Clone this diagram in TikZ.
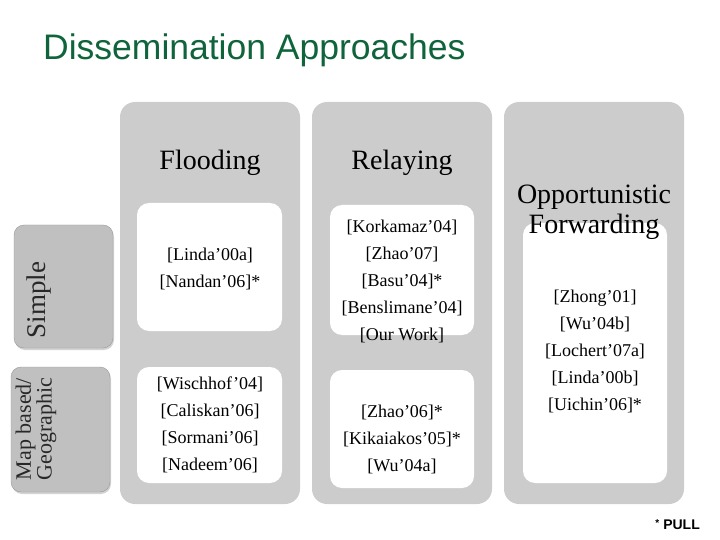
\documentclass[tikz,border=0pt]{standalone}
\usepackage{fontspec}
\setmainfont{Liberation Serif}
\newfontfamily\titlefont{Liberation Sans}
\usetikzlibrary{shadows}
\definecolor{titlegreen}{RGB}{16,100,60}
\definecolor{colgray}{RGB}{204,204,204}
\definecolor{labgray}{RGB}{192,192,192}
\definecolor{labtext}{RGB}{40,40,40}
\tikzset{
  colbox/.style={fill=colgray, rounded corners=15pt, minimum width=180pt, minimum height=402pt, inner sep=0pt},
  whitebox/.style={fill=white, rounded corners=12pt, inner sep=0pt},
  labbox/.style={fill=labgray, draw=gray!80, line width=0.4pt, rounded corners=10pt, inner sep=0pt,
     drop shadow={shadow xshift=1pt, shadow yshift=-2pt, opacity=0.35}},
  head/.style={font=\fontsize{28}{30}\selectfont, align=center, inner sep=0pt},
  refs/.style={font=\fontsize{18}{27}\selectfont, align=center, inner sep=0pt},
}
\begin{document}
\begin{tikzpicture}[x=1pt,y=-1pt]
\useasboundingbox (0,0) rectangle (720,540);
% title
\node[anchor=west, inner sep=0pt, text=titlegreen, font=\titlefont\fontsize{35.5}{40}\selectfont] (title) at (43,50) {Dissemination Approaches};
% columns
\node[colbox] (colF) at (210,303) {};
\node[colbox] (colR) at (402,303) {};
\node[colbox] (colO) at (594,303) {};
% row labels
\node[labbox, minimum width=99pt, minimum height=123pt] (labS) at (63.5,286.5) {};
\node[labbox, minimum width=99pt, minimum height=125pt] (labM) at (60.5,429.5) {};
\node[rotate=90, inner sep=0pt, text=labtext, font=\fontsize{27}{27}\selectfont] (tS) at (39,300) {Simple};
\node[rotate=90, inner sep=0pt, text=labtext, align=center, font=\fontsize{22}{17}\selectfont] (tM) at (36,429) {Map based/\\Geographic};
% white boxes
\node[whitebox, minimum width=145pt, minimum height=128pt] (wFS) at (209.5,267) {};
\node[whitebox, minimum width=145pt, minimum height=116pt] (wFM) at (209.5,425) {};
\node[whitebox, minimum width=144pt, minimum height=130pt] (wRS) at (402,270) {};
\node[whitebox, minimum width=144pt, minimum height=118pt] (wRM) at (402,429) {};
\node[whitebox, minimum width=144pt, minimum height=260pt] (wO) at (595,353) {};
% headings
\node[head] (hF) at (210,163) {Flooding};
\node[head] (hR) at (402,163) {Relaying};
\node[head] (hO) at (594,212) {Opportunistic\\Forwarding};
% references
\node[refs] (rFS) at (210,268.5) {{[Linda’00a]}\\{[Nandan’06]*}};
\node[refs] (rFM) at (210,425) {{[Wischhof’04]}\\{[Caliskan’06]}\\{[Sormani’06]}\\{[Nadeem’06]}};
\node[refs] (rRS) at (402,281) {{[Korkamaz’04]}\\{[Zhao’07]}\\{[Basu’04]*}\\{[Benslimane’04]}\\{[Our Work]}};
\node[refs] (rRM) at (402,439.5) {{[Zhao’06]*}\\{[Kikaiakos’05]*}\\{[Wu’04a]}};
\node[refs] (rO) at (595,351.5) {{[Zhong’01]}\\{[Wu’04b]}\\{[Lochert’07a]}\\{[Linda’00b]}\\{[Uichin’06]*}};
% footnote
\node[anchor=east, inner sep=0pt, font=\titlefont\bfseries\fontsize{14}{14}\selectfont] (pull) at (700,525) {\raisebox{3pt}{\fontsize{10}{10}\selectfont *}\hspace{4pt}PULL};
\end{tikzpicture}
\end{document}
